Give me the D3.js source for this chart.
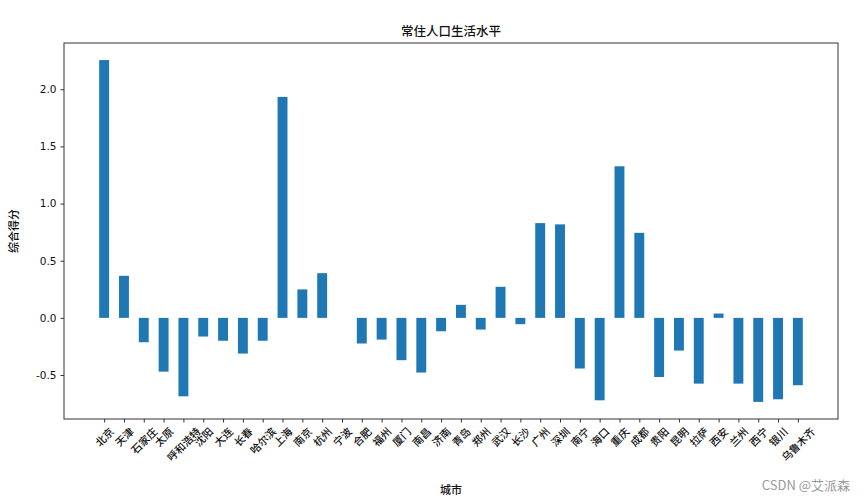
<!DOCTYPE html>
<html><head><meta charset="utf-8">
<script src="https://cdn.jsdelivr.net/npm/d3@7"></script>
<style>
body{margin:0;background:#fff;}
text{font-family:"Noto Sans CJK SC","DejaVu Sans",sans-serif;}
</style></head>
<body>
<svg id="c" width="865" height="503"></svg>
<script>
const cities = ["北京","天津","石家庄","太原","呼和浩特","沈阳","大连","长春","哈尔滨","上海","南京","杭州","宁波","合肥","福州","厦门","南昌","济南","青岛","郑州","武汉","长沙","广州","深圳","南宁","海口","重庆","成都","贵阳","昆明","拉萨","西安","兰州","西宁","银川","乌鲁木齐"];
const scores = [2.255,0.368,-0.213,-0.47,-0.686,-0.163,-0.20,-0.312,-0.20,1.933,0.249,0.391,0,-0.224,-0.19,-0.37,-0.478,-0.117,0.114,-0.102,0.272,-0.055,0.829,0.818,-0.443,-0.721,1.326,0.744,-0.517,-0.286,-0.575,0.038,-0.575,-0.735,-0.712,-0.589];
const yTicks = [-0.5,0.0,0.5,1.0,1.5,2.0];
const title = "常住人口生活水平";
const xTitle = "城市";
const yTitle = "综合得分";
const watermark = "CSDN @艾派森";

const svg = d3.select("#c");
const L=64, R=838, T=43, B=419;
const n = cities.length;
const barW = 0.5;
const dMin = d3.min(scores), dMax = d3.max(scores);
const xs = d3.scaleLinear().domain([-barW/2 - 0.05*(n-1+barW), n-1+barW/2 + 0.05*(n-1+barW)]).range([L,R]);
const lo = Math.min(0,dMin), hi = Math.max(0,dMax);
const ys = d3.scaleLinear().domain([lo-0.05*(hi-lo), hi+0.05*(hi-lo)]).range([B,T]);

svg.append("g").selectAll("rect").data(scores).join("rect")
  .attr("x",(d,i)=>xs(i-barW/2)).attr("width",xs(barW)-xs(0))
  .attr("y",d=>ys(Math.max(0,d))).attr("height",d=>Math.abs(ys(d)-ys(0)))
  .attr("fill","#1f77b4");

// y axis
const ya = svg.append("g").attr("transform",`translate(${L},0)`)
  .call(d3.axisLeft(ys).tickValues(yTicks).tickFormat(d=>d.toFixed(1)).tickSizeOuter(0).tickSize(3.5).tickPadding(4));
ya.select(".domain").remove();
ya.selectAll("text").attr("font-size",10.5).attr("fill","#111").style("font-family","'DejaVu Sans',sans-serif");
ya.selectAll("line").attr("stroke","#333");

// x axis
const xa = svg.append("g").attr("transform",`translate(0,${B})`)
  .call(d3.axisBottom(xs).tickValues(d3.range(n)).tickFormat("").tickSizeOuter(0).tickSize(3.5));
xa.select(".domain").remove();
xa.selectAll("line").attr("stroke","#333");

const lab = svg.append("g");
cities.forEach((c,i)=>{
  const t = lab.append("text").text(c).attr("font-size",10.5).attr("fill","#111").attr("font-weight",500)
    .attr("text-anchor","middle").attr("dominant-baseline","central");
  const w = t.node().getComputedTextLength(), h = 10.5;
  const half = (w*Math.SQRT1_2 + h*Math.SQRT1_2)/2;
  const cx = xs(i), cy = B + 3.5 + 3 + half;
  t.attr("x",cx).attr("y",cy).attr("transform",`rotate(-45,${cx},${cy})`);
});

// frame
svg.append("rect").attr("x",L).attr("y",T).attr("width",R-L).attr("height",B-T)
  .attr("fill","none").attr("stroke","#333").attr("stroke-width",1);

svg.append("text").text(title).attr("x",(L+R)/2).attr("y",36).attr("text-anchor","middle").attr("font-size",12.5).attr("font-weight",500).attr("fill","#111");
svg.append("text").text(xTitle).attr("x",(L+R)/2).attr("y",494).attr("text-anchor","middle").attr("font-size",11).attr("font-weight",500).attr("fill","#111");
svg.append("text").text(yTitle).attr("transform",`translate(18,${(T+B)/2}) rotate(-90)`).attr("text-anchor","middle").attr("font-size",11).attr("font-weight",500).attr("fill","#111");
svg.append("text").text(watermark).attr("x",850).attr("y",490).attr("text-anchor","end").attr("font-size",13).attr("fill","#999");
</script>
</body></html>
